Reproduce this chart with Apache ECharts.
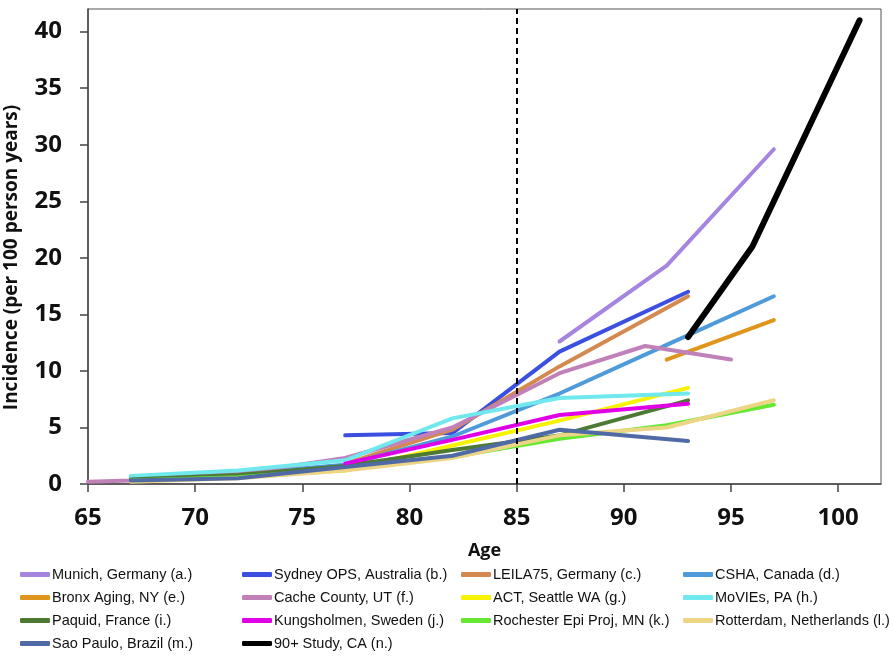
<!DOCTYPE html>
<html>
<head>
<meta charset="utf-8">
<script src="https://cdn.jsdelivr.net/npm/echarts@6/dist/echarts.min.js"></script>
<style>
  html, body { margin: 0; padding: 0; background: #fff; }
  #chart { width: 893px; height: 662px; }
</style>
</head>
<body>
<div id="chart"></div>
<script>
// study names (legend order)
var names = ['Munich, Germany (a.)', 'Sydney OPS, Australia (b.)', 'LEILA75, Germany (c.)', 'CSHA, Canada (d.)',
             'Bronx Aging, NY (e.)', 'Cache County, UT (f.)', 'ACT, Seattle WA (g.)', 'MoVIEs, PA (h.)',
             'Paquid, France (i.)', 'Kungsholmen, Sweden (j.)', 'Rochester Epi Proj, MN (k.)', 'Rotterdam, Netherlands (l.)',
             'Sao Paulo, Brazil (m.)', '90+ Study, CA (n.)'];
var colors = ['#a585e0', '#3b4fe0', '#d3894f', '#4f9bd9',
              '#e0951c', '#c080b8', '#f6f200', '#6fe8ee',
              '#4c7a32', '#e000e8', '#66e833', '#ecd585',
              '#4f6aa4', '#000000'];

// ages and incidence per study
var munichAge = [87, 92, 97];               var munichVal = [12.6, 19.3, 29.6];
var sydneyAge = [77, 82, 87, 93];           var sydneyVal = [4.3, 4.5, 11.7, 17.0];
var leilaAge = [77, 82, 87, 93];            var leilaVal = [1.8, 4.8, 10.4, 16.6];
var cshaAge = [67, 72, 77, 82, 87, 92, 97]; var cshaVal = [0.5, 0.9, 1.7, 4.2, 8.0, 12.3, 16.6];
var bronxAge = [92, 97];                    var bronxVal = [11.0, 14.5];
var cacheAge = [65, 67, 72, 77, 82, 87, 91, 95]; var cacheVal = [0.2, 0.3, 0.9, 2.3, 5.0, 9.8, 12.2, 11.0];
var actAge = [67, 72, 77, 82, 87, 93];      var actVal = [0.3, 0.6, 1.2, 3.4, 5.6, 8.5];
var moviesAge = [67, 72, 77, 82, 87, 93];   var moviesVal = [0.7, 1.2, 2.1, 5.8, 7.6, 8.0];
var paquidAge = [67, 72, 77, 82, 87, 93];   var paquidVal = [0.4, 0.8, 1.6, 3.0, 4.3, 7.4];
var kungAge = [77, 82, 87, 93];             var kungVal = [1.8, 3.9, 6.1, 7.1];
var rochAge = [67, 72, 77, 82, 87, 92, 97]; var rochVal = [0.3, 0.6, 1.3, 2.4, 4.0, 5.2, 7.0];
var rottAge = [67, 72, 77, 82, 87, 92, 97]; var rottVal = [0.2, 0.5, 1.2, 2.3, 4.3, 5.0, 7.4];
var saoAge = [67, 72, 77, 82, 87, 93];      var saoVal = [0.3, 0.5, 1.5, 2.5, 4.8, 3.8];
var ninetyAge = [93, 96, 101];              var ninetyVal = [13.0, 21.0, 41.0];

var ages = [munichAge, sydneyAge, leilaAge, cshaAge, bronxAge, cacheAge, actAge, moviesAge,
            paquidAge, kungAge, rochAge, rottAge, saoAge, ninetyAge];
var vals = [munichVal, sydneyVal, leilaVal, cshaVal, bronxVal, cacheVal, actVal, moviesVal,
            paquidVal, kungVal, rochVal, rottVal, saoVal, ninetyVal];

var cutoffAge = 85;

var chart = echarts.init(document.getElementById('chart'));

var series = [];
for (var i = 0; i < names.length; i++) {
  var pts = [];
  for (var j = 0; j < ages[i].length; j++) pts.push([ages[i][j], vals[i][j]]);
  series.push({
    name: names[i],
    type: 'line',
    data: pts,
    symbol: 'none',
    color: colors[i],
    lineStyle: { width: i == 13 ? 6 : 4, color: colors[i], cap: 'round', join: 'round' }
  });
}
// dashed reference line at age 85
series[0].markLine = {
  silent: true,
  symbol: 'none',
  label: { show: false },
  lineStyle: { color: '#000', type: [6, 4], width: 2 },
  data: [{ xAxis: cutoffAge }]
};

// legend in 4 columns
var cols = [20, 242, 461, 683];
var legends = [];
for (var c = 0; c < 4; c++) {
  var d = [];
  for (var k = c; k < names.length; k += 4) d.push(names[k]);
  legends.push({
    data: d,
    orient: 'vertical',
    left: cols[c],
    top: 567,
    padding: 0,
    itemWidth: 30,
    itemHeight: 5,
    itemGap: 8,
    icon: 'roundRect',
    textStyle: { fontFamily: 'Liberation Sans', fontSize: 14.5, color: '#111', padding: [0, 0, 0, -3] }
  });
}

var tickFont = { fontFamily: 'Open Sans', fontWeight: 'bold', fontSize: 24, color: '#111' };

option = {
  animation: false,
  backgroundColor: '#fff',
  grid: { left: 88, right: 12, top: 9, bottom: 178, outerBoundsMode: 'none',
          show: true, borderColor: '#555', borderWidth: 1 },
  legend: legends,
  xAxis: {
    type: 'value',
    min: 65, max: 102, interval: 5,
    name: 'Age',
    nameLocation: 'middle',
    nameGap: 58,
    nameTextStyle: { fontFamily: 'Open Sans', fontWeight: 'bold', fontSize: 18, color: '#111' },
    axisLine: { lineStyle: { color: '#444', width: 1.5 } },
    axisTick: { length: 8, lineStyle: { color: '#444', width: 1.5 } },
    axisLabel: Object.assign({ margin: 22, showMaxLabel: false,
      formatter: function (v) { return v % 5 === 0 ? v : ''; } }, tickFont),
    splitLine: { show: false }
  },
  yAxis: {
    type: 'value',
    min: 0, max: 42, interval: 5,
    name: 'Incidence (per 100 person years)',
    nameLocation: 'middle',
    nameGap: 67,
    nameTextStyle: { fontFamily: 'Open Sans', fontWeight: 'bold', fontSize: 19, color: '#111', padding: [0, 22, 0, 0] },
    axisLine: { show: true, lineStyle: { color: '#444', width: 1.5 } },
    axisTick: { show: true, length: 8, lineStyle: { color: '#444', width: 1.5 } },
    axisLabel: Object.assign({ margin: 26, showMaxLabel: false,
      formatter: function (v) { return v % 5 === 0 ? v : ''; } }, tickFont),
    splitLine: { show: false }
  },
  series: series
};

chart.setOption(option);
</script>
</body>
</html>
